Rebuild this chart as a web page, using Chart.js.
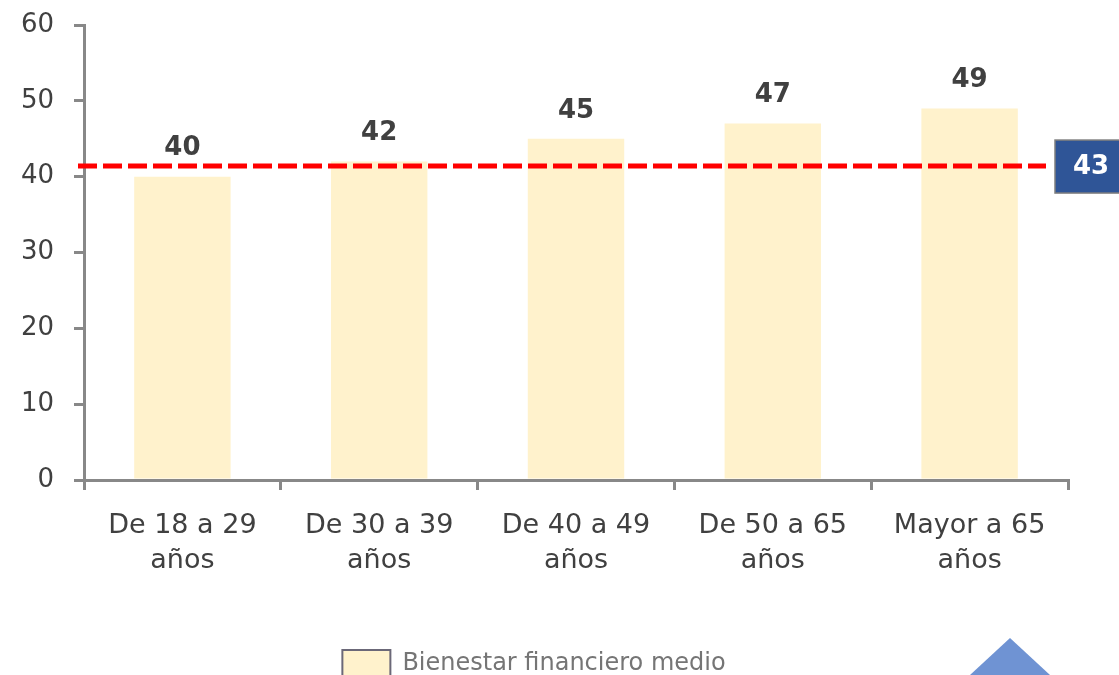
<!DOCTYPE html>
<html>
<head>
<meta charset="utf-8">
<script src="https://cdn.jsdelivr.net/npm/chart.js@4"></script>
<style>
  html, body { margin: 0; padding: 0; background: #fff; }
  #wrap { width: 1119px; height: 675px; }
</style>
</head>
<body>
<div id="wrap"><canvas id="barChart"></canvas></div>
<script>
const categories = [['De 18 a 29', 'años'], ['De 30 a 39', 'años'], ['De 40 a 49', 'años'], ['De 50 a 65', 'años'], ['Mayor a 65', 'años']];
const values = [40, 42, 45, 47, 49];
const yTicks = [0, 10, 20, 30, 40, 50, 60];
const averageLabel = 43;
const averageLine = 41.4;
const seriesName = 'Bienestar financiero medio';

const FONT = "'DejaVu Sans', sans-serif";

// labels above the bars
const barLabels = {
  id: 'barLabels',
  afterDatasetsDraw(chart) {
    const { ctx } = chart;
    const meta = chart.getDatasetMeta(0);
    ctx.save();
    ctx.font = 'bold 26px ' + FONT;
    ctx.fillStyle = '#404040';
    ctx.textAlign = 'center';
    ctx.textBaseline = 'bottom';
    meta.data.forEach((bar, i) => {
      ctx.fillText(values[i], bar.x, bar.y - 15);
    });
    ctx.restore();
  }
};

// red dashed average line + blue value box
const averageMark = {
  id: 'averageMark',
  afterDatasetsDraw(chart) {
    const { ctx, scales } = chart;
    const y = scales.y.getPixelForValue(averageLine);
    ctx.save();
    ctx.strokeStyle = '#ff0000';
    ctx.lineWidth = 5;
    ctx.setLineDash([19, 6]);
    ctx.beginPath();
    ctx.moveTo(78, y);
    ctx.lineTo(1046, y);
    ctx.stroke();
    ctx.setLineDash([]);
    ctx.fillStyle = '#2f5597';
    ctx.fillRect(1055, y - 26, 66, 53);
    ctx.strokeStyle = '#7f7f7f';
    ctx.lineWidth = 1.5;
    ctx.strokeRect(1055, y - 26, 66, 53);
    ctx.fillStyle = '#ffffff';
    ctx.font = 'bold 26px ' + FONT;
    ctx.textAlign = 'center';
    ctx.textBaseline = 'middle';
    ctx.fillText(averageLabel, 1091, y + 1);
    // decorative shape in the corner
    ctx.fillStyle = '#6f93d3';
    ctx.beginPath();
    ctx.moveTo(1010, 638);
    ctx.lineTo(1050, 675);
    ctx.lineTo(970, 675);
    ctx.closePath();
    ctx.fill();
    ctx.restore();
  }
};

new Chart(document.getElementById('barChart'), {
  type: 'bar',
  data: {
    labels: categories,
    datasets: [{
      label: seriesName,
      data: values,
      backgroundColor: '#fff2cc',
      borderColor: '#6b6878',
      borderWidth: 0,
      categoryPercentage: 0.49,
      barPercentage: 1
    }]
  },
  options: {
    responsive: true,
    maintainAspectRatio: false,
    animation: false,
    layout: { padding: { left: 0, right: 51, top: 25, bottom: -12 } },
    plugins: {
      tooltip: { enabled: false },
      legend: {
        position: 'bottom',
        labels: {
          boxWidth: 48, boxHeight: 27, padding: 10,
          color: '#757575',
          font: { family: FONT, size: 24 },
          generateLabels: (chart) => [{
            text: seriesName, fillStyle: '#fff2cc', strokeStyle: '#6b6878', lineWidth: 2,
            fontColor: '#757575', datasetIndex: 0
          }]
        }
      }
    },
    scales: {
      y: {
        min: 0, max: 60,
        afterFit: (s) => { s.width = 84; s.paddingTop = 0; s.paddingBottom = 0; },
        afterBuildTicks: (s) => { s.ticks = yTicks.map(v => ({ value: v })); },
        border: { color: '#888888', width: 3 },
        grid: { drawOnChartArea: false, tickLength: 10, color: '#888888', lineWidth: 3 },
        ticks: { color: '#404040', font: { family: FONT, size: 26 }, padding: 20 }
      },
      x: {
        afterFit: (s) => { s.height = 160; s.paddingLeft = 0; s.paddingRight = 0; },
        border: { color: '#888888', width: 3 },
        grid: { drawOnChartArea: false, tickLength: 10, color: '#888888', lineWidth: 3, offset: true },
        ticks: { color: '#404040', font: { family: FONT, size: 27, lineHeight: 1.3 }, padding: 18, maxRotation: 0 }
      }
    }
  },
  plugins: [barLabels, averageMark]
});
</script>
</body>
</html>
